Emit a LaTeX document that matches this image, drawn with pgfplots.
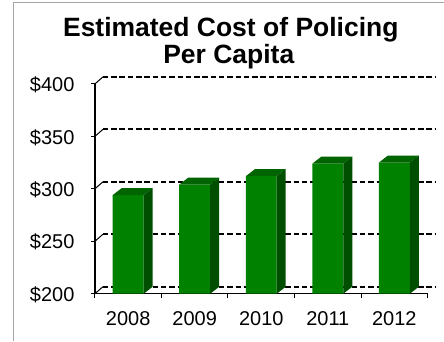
\documentclass[border=0pt]{standalone}
\usepackage{pgfplots}
\pgfplotsset{compat=1.18}
\usepackage{pgfplotstable}
\usepackage{fontspec}
\setmainfont{Liberation Sans}
\definecolor{frontc}{RGB}{0,130,0}
\definecolor{topc}{RGB}{0,100,0}
\definecolor{sidec}{RGB}{0,78,0}
\pgfdeclareplotmark{diag}{%
  \pgfpathmoveto{\pgfpointorigin}%
  \pgfpathlineto{\pgfqpoint{8pt}{7pt}}%
  \pgfusepathqstroke}
\pgfdeclareplotmark{prism}{%
  \pgfsetfillcolor{topc}%
  \pgfpathmoveto{\pgfqpoint{-15.5pt}{0pt}}%
  \pgfpathlineto{\pgfqpoint{15.5pt}{0pt}}%
  \pgfpathlineto{\pgfqpoint{24.5pt}{7pt}}%
  \pgfpathlineto{\pgfqpoint{-6.5pt}{7pt}}%
  \pgfpathclose\pgfusepath{fill}%
  \pgfsetfillcolor{sidec}%
  \pgfpathmoveto{\pgfqpoint{15.5pt}{0pt}}%
  \pgfpathlineto{\pgfqpoint{24.5pt}{7pt}}%
  \pgfpathlineto{\pgfqpoint{24.5pt}{\dimexpr 7pt+(200pt-\val pt)*105/100\relax}}%
  \pgfpathlineto{\pgfqpoint{15.5pt}{\dimexpr (200pt-\val pt)*105/100\relax}}%
  \pgfpathclose\pgfusepath{fill}%
}
\pgfplotstableread{
x v
0 294
1 304
2 312
3 324
4 325
}\datatab
\begin{document}
\begin{tikzpicture}
\path (0pt,0pt) rectangle (444pt,341pt);
\draw[gray!70, line width=0.8pt] (13pt,0pt) -- (13pt,338.6pt) -- (444pt,338.6pt);
\node[font=\bfseries\fontsize{26.5}{28}\selectfont, anchor=base, inner sep=0pt] at (231pt,304pt) {Estimated Cost of Policing};
\node[font=\bfseries\fontsize{26.5}{28}\selectfont, anchor=base, inner sep=0pt] at (229pt,277pt) {Per Capita};
\begin{axis}[
  at={(95pt,47pt)}, anchor=south west,
  scale only axis, width=333pt, height=210pt,
  xmin=-0.5, xmax=4.5, ymin=200, ymax=400,
  axis x line*=bottom, axis y line*=left,
  axis line style={black, line width=1.3pt},
  xtick={0,...,4}, xticklabels={2008,2009,2010,2011,2012},
  major x tick style={draw=none},
  minor xtick={-0.5,0.5,...,4.5},
  tick align=outside, major tick length=4pt, minor tick length=4pt,
  tick style={black, line width=1pt},
  ytick={200,250,...,400},
  yticklabel={\$\pgfmathprintnumber[assume math mode=true]{\tick}},
  tick label style={font=\fontsize{20}{24}\selectfont},
  yticklabel style={xshift=-13pt, yshift=-1pt},
  xticklabel style={yshift=-10pt},
  ymajorgrids,
  major grid style={black, line width=1.8pt, dash pattern=on 5.5pt off 2.8pt, shift={(8pt,7pt)}},
  clip=false,
]
\addplot[ybar, bar width=31pt, fill=frontc, draw=none] table[x=x,y=v]{\datatab};
\addplot[only marks, mark=prism, visualization depends on={rawy \as \val}] table[x=x,y=v]{\datatab};
\addplot[only marks, mark=diag, mark options={black, line width=1pt}] coordinates {(-0.5,200) (-0.5,250) (-0.5,300) (-0.5,350) (-0.5,400)};
\end{axis}
\end{tikzpicture}
\end{document}
